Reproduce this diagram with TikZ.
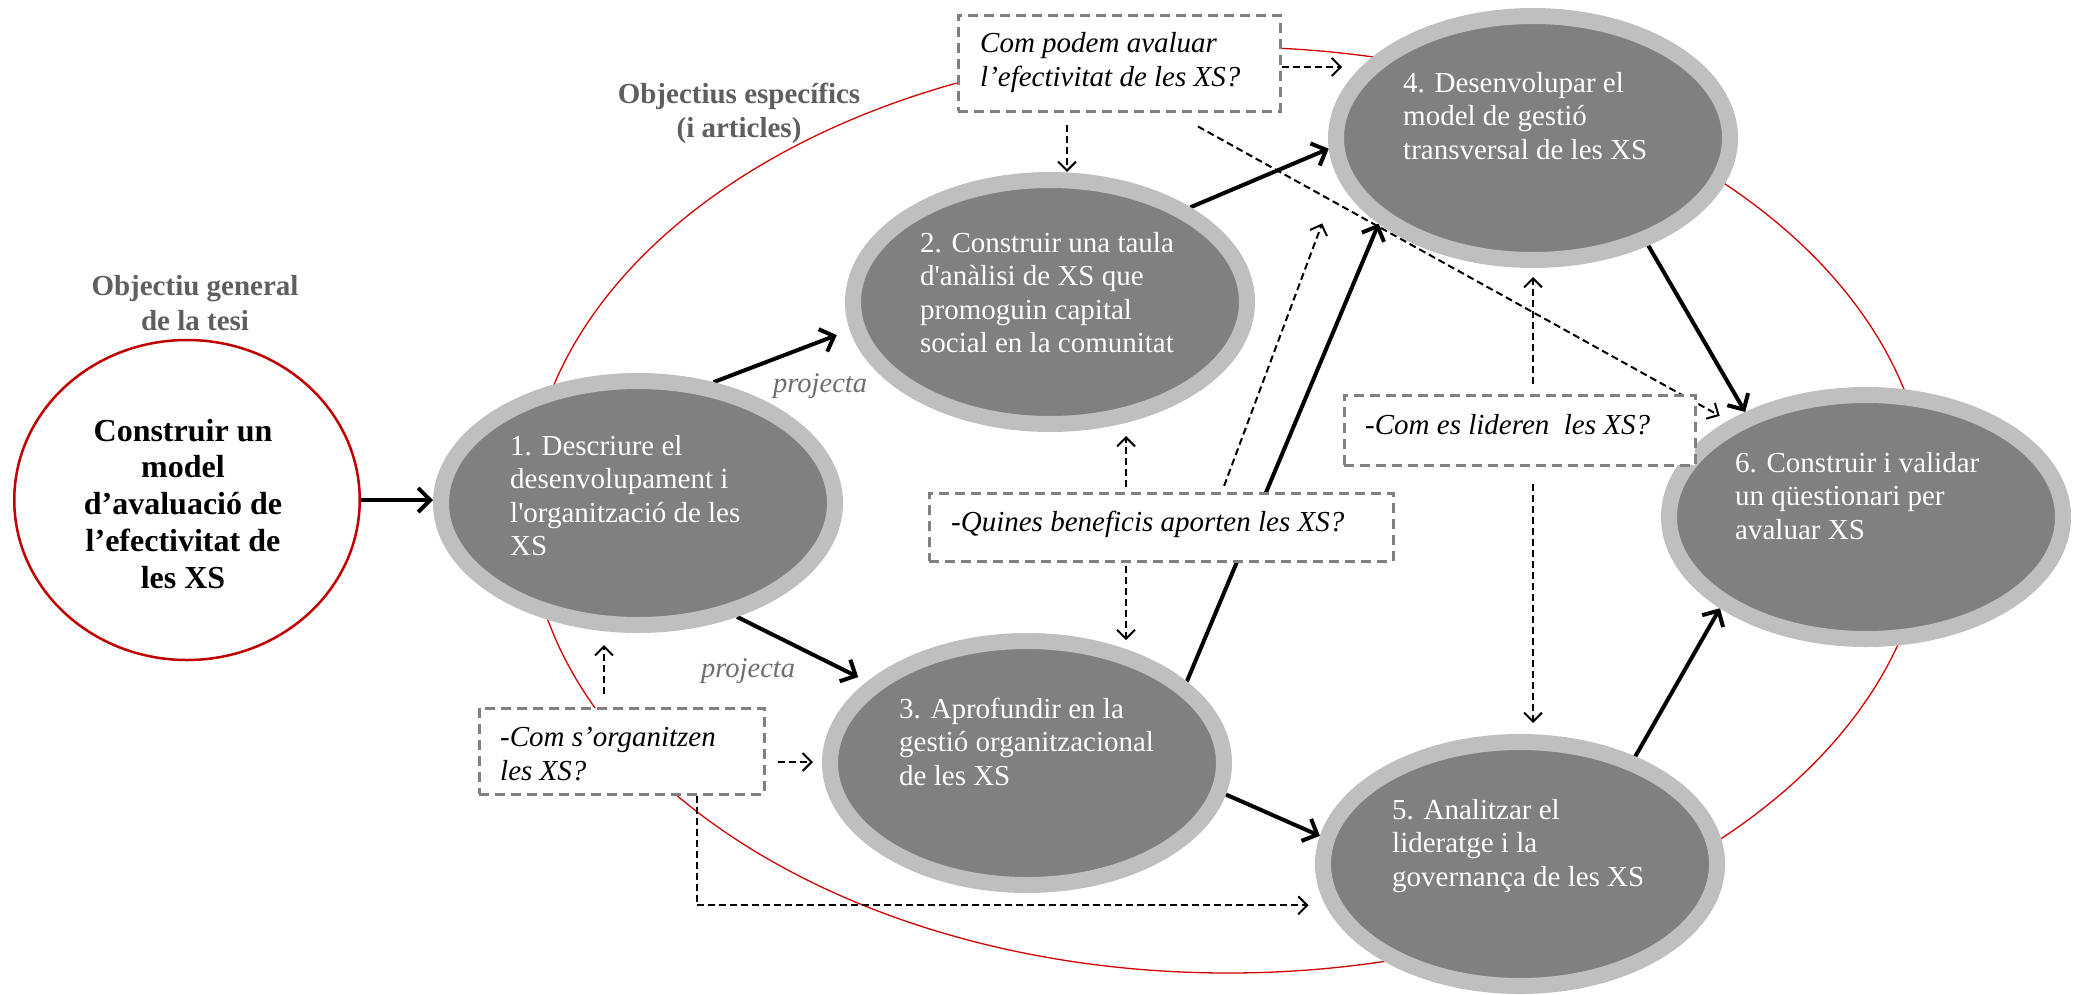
\documentclass[tikz,border=0pt]{standalone}
\usepackage{fontspec}
\setmainfont{Liberation Serif}[Ligatures=TeXOff]
\usetikzlibrary{shapes.geometric,arrows.meta}
\definecolor{ringgray}{RGB}{191,191,191}
\definecolor{coregray}{RGB}{128,128,128}
\definecolor{boxgray}{RGB}{128,128,128}
\definecolor{titlegray}{RGB}{95,95,95}
\definecolor{projgray}{RGB}{110,110,110}
\definecolor{darkred}{RGB}{192,0,0}
\definecolor{linered}{RGB}{210,0,0}
\pgfdeclarelayer{bg}
\pgfsetlayers{bg,main}
\newcommand{\lns}[1]{\begin{tabular}[t]{@{}l@{}}#1\end{tabular}}
\newcommand{\clns}[1]{\begin{tabular}[t]{@{}c@{}}#1\end{tabular}}
\begin{document}
\begin{tikzpicture}[x=1pt,y=-1pt,
  obj/.style={ellipse, fill=coregray, draw=ringgray, line width=16pt, minimum width=394pt, minimum height=244pt, inner sep=0pt},
  qbox/.style={rectangle, fill=white, draw=boxgray, line width=3pt, dash pattern=on 10pt off 6pt, inner sep=0pt},
  objtext/.style={anchor=base west, inner sep=0pt, text=white, font=\fontsize{29}{33.5}\selectfont},
  qtext/.style={anchor=base west, inner sep=0pt, font=\fontsize{29}{34}\selectfont\itshape},
  titletext/.style={anchor=base, inner sep=0pt, text=titlegray, font=\fontsize{29}{34}\selectfont\bfseries},
  projtext/.style={anchor=base west, inner sep=0pt, text=projgray, font=\fontsize{28.5}{34}\selectfont\itshape},
  solidarrow/.style={draw=black, line width=4pt, -{Straight Barb[length=12pt,width=24pt]}},
  dasharrow/.style={draw=black, line width=2pt, dash pattern=on 7pt off 4pt, -{Straight Barb[length=9pt,width=18pt]}}
]
\useasboundingbox (0,0) rectangle (2080,994);

% general objective
\node[ellipse, draw=darkred, line width=2.5pt, minimum width=345.5pt, minimum height=320pt, inner sep=0pt] (c0) at (187,500) {};
\node[anchor=base, inner sep=0pt, font=\fontsize{32}{36.75}\selectfont\bfseries] (c0t) at (183,441)
  {\clns{Construir un\\model\\d’avaluació de\\l’efectivitat de\\les XS}};
\node[titletext] (tg) at (195,295) {\clns{Objectiu general\\[1pt]de la tesi}};
\node[titletext] (ts) at (739,103) {\clns{Objectius específics\\(i articles)}};

% specific objectives
\node[obj] (e1) at (638,503) {};
\node[obj] (e2) at (1050,302) {};
\node[obj] (e3) at (1027,763) {};
\node[obj] (e4) at (1533,138) {};
\node[obj] (e5) at (1520,864) {};
\node[obj] (e6) at (1866,517) {};

\node[objtext] (t1) at (510,455) {\lns{1. Descriure el\\desenvolupament i\\l'organització de les\\XS}};
\node[objtext] (t2) at (920,252) {\lns{2. Construir una taula\\d'anàlisi de XS que\\promoguin capital\\social en la comunitat}};
\node[objtext] (t3) at (899,718) {\lns{3. Aprofundir en la\\gestió organitzacional\\de les XS}};
\node[objtext] (t4) at (1403,92) {\lns{4. Desenvolupar el\\model de gestió\\transversal de les XS}};
\node[objtext] (t5) at (1392,819) {\lns{5. Analitzar el\\lideratge i la\\governança de les XS}};
\node[objtext] (t6) at (1735,472) {\lns{6. Construir i validar\\un qüestionari per\\avaluar XS}};

% question boxes
\node[qbox, minimum width=322pt, minimum height=96pt] (q1) at (1119,63) {};
\node[qbox, minimum width=464pt, minimum height=68pt] (q2) at (1161,527) {};
\node[qbox, minimum width=351pt, minimum height=70pt] (q3) at (1519.5,430) {};
\node[qbox, minimum width=285pt, minimum height=86pt] (q4) at (621.5,751) {};

\node[qtext] (q1t) at (980,52) {\lns{Com podem avaluar\\l’efectivitat de les XS?}};
\node[qtext] (q2t) at (951,531) {-Quines beneficis aporten les XS?};
\node[qtext] (q3t) at (1365,434) {-Com es lideren\ \ les XS?};
\node[qtext] (q4t) at (500,746) {\lns{-Com s’organitzen\\les XS?}};

\node[projtext] (p1) at (773,392) {projecta};
\node[projtext] (p2) at (701,677) {projecta};

\begin{pgfonlayer}{bg}
\draw[linered, line width=1.3pt] (1228,510) ellipse [x radius=700, y radius=463];

\draw[solidarrow] (c0.east) -- (e1.west |- c0.east);
\draw[solidarrow, shorten >=14pt] (e1.58) -- (e2.188);
\draw[solidarrow, shorten >=10pt] (e1.-49) -- (e3.153);
\draw[solidarrow] (e2.34) -- (e4.183);
\draw[solidarrow] (e3.27) -- (e4.209);
\draw[solidarrow] (e3.-9) -- (e5.172);
\draw[solidarrow] (e4.-43) -- (e6.139);
\draw[solidarrow] (e5.43) -- (e6.212);

\draw[dasharrow, shorten <=12pt] ([xshift=-52pt]q1.south) -- ([xshift=-52pt]q1.south |- e2.north);
\draw[dasharrow, shorten >=18pt] ([yshift=-4pt]q1.east) -- ([yshift=-4pt]q1.east -| e4.158);
\draw[dasharrow, shorten >=10pt] ([xshift=79pt,yshift=-14pt]q1.south) -- (e6.145);

\draw[dasharrow, shorten <=5pt, shorten >=4pt] ([xshift=-35pt]q2.north) -- ([xshift=-35pt]q2.north |- e2.south);
\draw[dasharrow, shorten <=3pt, shorten >=9pt] ([xshift=-35pt]q2.south) -- ([xshift=-35pt]q2.south |- e3.49);
\draw[dasharrow, shorten <=6pt, shorten >=47pt] ([xshift=61pt]q2.north) -- (e4.192);

\draw[dasharrow, shorten <=10pt, shorten >=9pt] ([xshift=13.5pt]q3.north) -- ([xshift=13.5pt]q3.north |- e4.south);
\draw[dasharrow, shorten <=17pt, shorten >=11pt] ([xshift=13.5pt]q3.south) -- ([xshift=13.5pt]q3.south |- e5.north);

\draw[dasharrow, shorten <=13pt, shorten >=12pt] ([xshift=-17.5pt]q4.north) -- ([xshift=-17.5pt]q4.north |- e1.south);
\draw[dasharrow, shorten <=12pt, shorten >=9pt] ([yshift=-11pt]q4.east) -- ([yshift=-11pt]q4.east -| e3.west);
\draw[dasharrow, shorten >=17pt] ([xshift=75.5pt]q4.south) |- (e5.192);
\end{pgfonlayer}
\end{tikzpicture}
\end{document}
